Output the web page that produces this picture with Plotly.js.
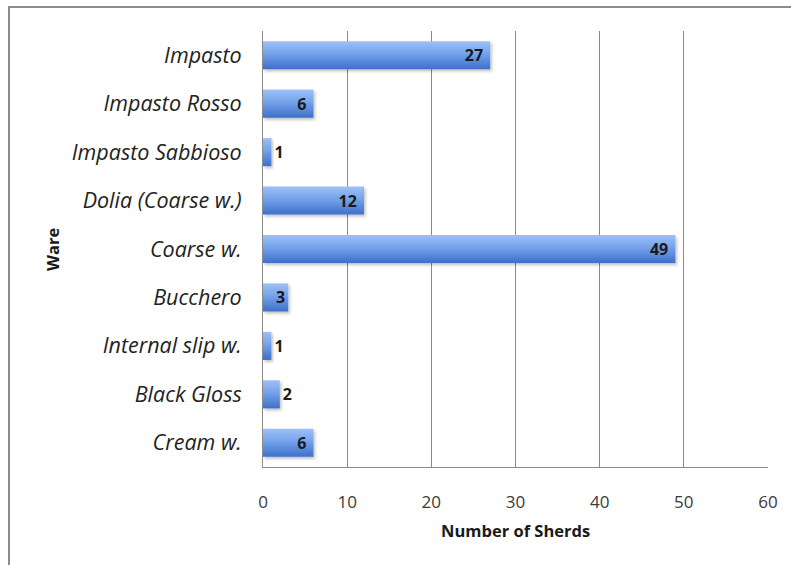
<!DOCTYPE html>
<html>
<head>
<meta charset="utf-8">
<script src="https://cdn.plot.ly/plotly-3.0.1.min.js"></script>
<style>
  html, body { margin: 0; padding: 0; background: #fff; }
  #wrap { position: relative; width: 791px; height: 565px; overflow: hidden; }
  #chart { position: absolute; left: 0; top: 0; width: 791px; height: 565px; }
  #frame { position: absolute; left: 8px; top: 6px; width: 800px; height: 600px;
           border-top: 2px solid #8c8c8c; border-left: 2px solid #8c8c8c; pointer-events: none; }
</style>
</head>
<body>
<div id="wrap">
  <div id="chart"></div>
  <div id="frame"></div>
</div>
<script>
const categories = ["Impasto", "Impasto Rosso", "Impasto Sabbioso", "Dolia (Coarse w.)", "Coarse w.", "Bucchero", "Internal slip w.", "Black Gloss", "Cream w."];
const sherds = [27, 6, 1, 12, 49, 3, 1, 2, 6];
const xTicks = [0, 10, 20, 30, 40, 50, 60];
const xTitle = "Number of Sherds";
const yTitle = "Ware";

const textPos = sherds.map(v => v <= 2 ? "outside" : "inside");
const labels = sherds.map(v => v <= 3 ? String(v) : String(v) + "\u00a0");

const font = '"Open Sans", "Noto Sans", sans-serif';

const trace = {
  type: "bar",
  orientation: "h",
  y: categories,
  x: sherds,
  width: 0.58,
  text: labels,
  textposition: textPos,
  insidetextanchor: "end",
  constraintext: "none",
  cliponaxis: false,
  textfont: { family: font, size: 16, color: "#1a1a1a", weight: "bold" },
  insidetextfont: { family: font, size: 16, color: "#1a1a1a", weight: "bold" },
  outsidetextfont: { family: font, size: 16, color: "#1a1a1a", weight: "bold" },
  marker: { color: "#5b8de0", line: { width: 0 } },
  hoverinfo: "none"
};

const layout = {
  width: 791, height: 565,
  margin: { l: 263, r: 23, t: 31, b: 98 },
  paper_bgcolor: "#ffffff",
  plot_bgcolor: "#ffffff",
  showlegend: false,
  xaxis: {
    range: [0, 60],
    tickvals: xTicks,
    ticktext: xTicks.map(String),
    showgrid: true,
    gridcolor: "#8a8a8a",
    gridwidth: 1,
    zeroline: false,
    showline: true,
    linecolor: "#8a8a8a",
    linewidth: 1,
    ticks: "",
    ticklabelstandoff: 20,
    tickfont: { family: font, size: 17, color: "#3a3a3a" },
    fixedrange: true
  },
  yaxis: {
    autorange: "reversed",
    showgrid: false,
    zeroline: false,
    showline: true,
    linecolor: "#8a8a8a",
    linewidth: 1,
    ticks: "",
    ticklabelstandoff: 16,
    tickfont: { family: font, size: 21.5, color: "#222222", style: "italic" },
    fixedrange: true
  },
  annotations: [
    { text: "<b>" + xTitle + "</b>", xref: "paper", yref: "paper", x: 0.5, y: -0.145,
      xanchor: "center", yanchor: "middle", showarrow: false,
      font: { family: font, size: 16.5, color: "#1a1a1a" } },
    { text: "<b>" + yTitle + "</b>", xref: "paper", yref: "paper", x: -0.418, y: 0.5,
      xanchor: "center", yanchor: "middle", textangle: -90, showarrow: false,
      font: { family: font, size: 16.5, color: "#1a1a1a" } }
  ]
};

Plotly.newPlot("chart", [trace], layout, { staticPlot: true, displayModeBar: false }).then(gd => {
  const svg = gd.querySelector("svg.main-svg");
  const ns = "http://www.w3.org/2000/svg";
  let defs = svg.querySelector("defs");
  if (!defs) { defs = document.createElementNS(ns, "defs"); svg.insertBefore(defs, svg.firstChild); }
  const grad = document.createElementNS(ns, "linearGradient");
  grad.setAttribute("id", "barGrad");
  grad.setAttribute("x1", "0"); grad.setAttribute("y1", "0");
  grad.setAttribute("x2", "0"); grad.setAttribute("y2", "1");
  [["0", "#9ec0f6"], ["0.45", "#74a2ea"], ["1", "#3d70c8"]].forEach(([o, c]) => {
    const s = document.createElementNS(ns, "stop");
    s.setAttribute("offset", o); s.setAttribute("stop-color", c);
    grad.appendChild(s);
  });
  defs.appendChild(grad);
  const filt = document.createElementNS(ns, "filter");
  filt.setAttribute("id", "barShadow");
  filt.setAttribute("x", "-10%"); filt.setAttribute("y", "-20%");
  filt.setAttribute("width", "130%"); filt.setAttribute("height", "160%");
  const ds = document.createElementNS(ns, "feDropShadow");
  ds.setAttribute("dx", "1.5"); ds.setAttribute("dy", "2");
  ds.setAttribute("stdDeviation", "1.5");
  ds.setAttribute("flood-color", "#000"); ds.setAttribute("flood-opacity", "0.25");
  filt.appendChild(ds);
  defs.appendChild(filt);
  gd.querySelectorAll(".bars .point path").forEach(p => {
    p.style.fill = "url(#barGrad)";
    p.setAttribute("filter", "url(#barShadow)");
  });
});
</script>
</body>
</html>
